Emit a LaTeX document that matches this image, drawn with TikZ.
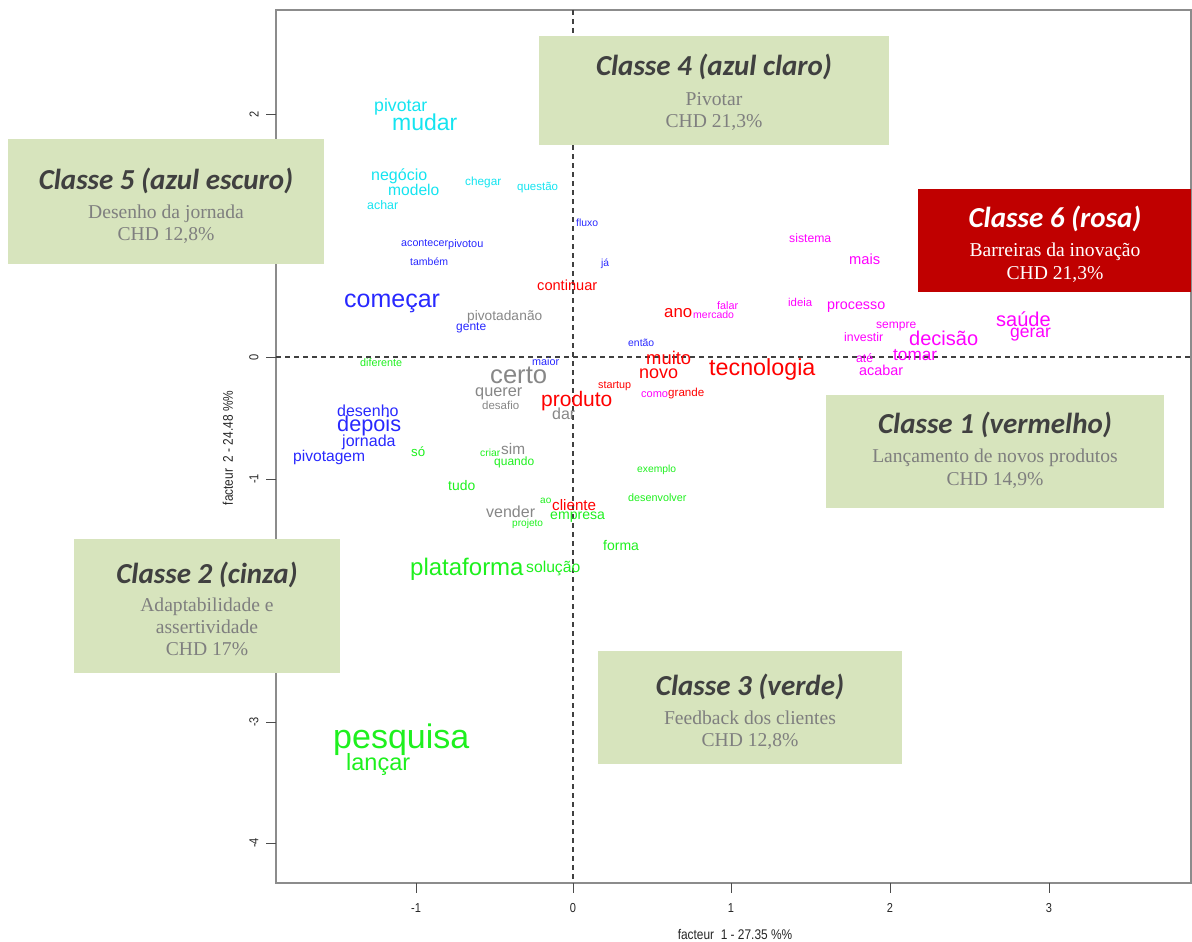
\documentclass[tikz,border=0pt]{standalone}
\usepackage{fontspec}
\setmainfont{Liberation Sans}
\newfontfamily\titlefont{Carlito}
\newfontfamily\subfont{Liberation Serif}
\newfontfamily\axisfont[FakeStretch=0.85]{Liberation Sans}

\definecolor{wcyan}{RGB}{20,228,240}
\definecolor{wblue}{RGB}{40,40,255}
\definecolor{wgrey}{RGB}{135,135,135}
\definecolor{wred}{RGB}{255,0,0}
\definecolor{wmag}{RGB}{255,0,255}
\definecolor{wgreen}{RGB}{30,240,30}
\definecolor{boxfill}{RGB}{215,228,189}
\definecolor{boxred}{RGB}{192,0,0}
\definecolor{titlegrey}{RGB}{64,64,64}
\definecolor{subgrey}{RGB}{127,127,127}

\tikzset{
  wd/.style 2 args={anchor=base west, inner sep=0pt, text=#1, font=\fontsize{#2}{#2}\selectfont},
  frameline/.style={draw=black!45, line width=2pt},
  tickline/.style={draw=black!70, line width=1pt},
  zeroline/.style={draw=black!75, line width=1.3pt, dash pattern=on 5pt off 4pt},
  ticklab/.style={inner sep=0pt, text=black!85, font=\axisfont\fontsize{13}{13}\selectfont},
  axtitle/.style={inner sep=0pt, text=black!85, font=\axisfont\fontsize{14}{14}\selectfont},
  classbox/.style={fill=boxfill, draw=none},
  classbox6/.style={fill=boxred, draw=none},
  ctitle/.style={anchor=base, inner sep=0pt, text=titlegrey, font=\titlefont\bfseries\itshape\fontsize{29}{29}\selectfont},
  csub/.style={anchor=base, inner sep=0pt, text=subgrey, font=\subfont\fontsize{19.6}{19.6}\selectfont},
}

\begin{document}
\begin{tikzpicture}[x=1pt, y=-1pt]
\useasboundingbox (0,0) rectangle (1192,942);

% plot frame and axes
\draw[frameline] (276,10) rectangle (1191,883);
\draw[zeroline] (573,10) -- (573,883);
\draw[zeroline] (276,357) -- (1191,357);

\foreach \xp/\lab in {416/-1, 573/0, 731/1, 890/2, 1049/3}{
  \draw[tickline] (\xp,883) -- (\xp,893);
  \node[ticklab] at (\xp,908) {\lab};
}
\foreach \yp/\lab in {114/2, 357/0, 479/-1, 722/-3, 843/-4}{
  \draw[tickline] (266,\yp) -- (276,\yp);
  \node[ticklab, rotate=90] at (254,\yp) {\lab};
}
\node[axtitle] (xtitle) at (735,934) {facteur\ \ 1 - 27.35 \%\%};
\node[axtitle, rotate=90] (ytitle) at (228,448) {facteur\ \ 2 - 24.48 \%\%};

% cyan class
\node[wd={wcyan}{17.7}] (pivotar) at (374,111.7) {pivotar};
\node[wd={wcyan}{23}] (mudar) at (392,130) {mudar};
\node[wd={wcyan}{16}] (negocio) at (371,180) {negócio};
\node[wd={wcyan}{15.6}] (modelo) at (388,195.7) {modelo};
\node[wd={wcyan}{12.4}] (achar) at (367,209) {achar};
\node[wd={wcyan}{11.8}] (chegar) at (465,185) {chegar};
\node[wd={wcyan}{11.5}] (questao) at (517,190) {questão};

% blue class
\node[wd={wblue}{10.4}] (fluxo) at (576,226.5) {fluxo};
\node[wd={wblue}{10.7}] (acontecer) at (401,246.7) {acontecer};
\node[wd={wblue}{10.9}] (pivotou) at (448,247) {pivotou};
\node[wd={wblue}{10.5}] (tambem) at (410,265.3) {também};
\node[wd={wblue}{10.3}] (ja) at (601,266) {já};
\node[wd={wblue}{25}] (comecar) at (344,307.3) {começar};
\node[wd={wblue}{12}] (gente) at (456,330.7) {gente};
\node[wd={wblue}{10.4}] (entao) at (628,346.7) {então};
\node[wd={wblue}{10.8}] (maior) at (532,365.3) {maior};
\node[wd={wblue}{16}] (desenho) at (337,416.7) {desenho};
\node[wd={wblue}{21.7}] (depois) at (337,431.7) {depois};
\node[wd={wblue}{16}] (jornada) at (342,446) {jornada};
\node[wd={wblue}{15.6}] (pivotagem) at (293,461) {pivotagem};

% grey class
\node[wd={wgrey}{13.7}] (pivotada) at (467,320) {pivotada};
\node[wd={wgrey}{13.7}] (nao) at (pivotada.base east) {não};
\node[wd={wgrey}{25.6}] (certo) at (490,383.3) {certo};
\node[wd={wgrey}{16.3}] (querer) at (475,396.7) {querer};
\node[wd={wgrey}{11.5}] (desafio) at (482,409.3) {desafio};
\node[wd={wgrey}{16}] (dar) at (552,419.3) {dar};
\node[wd={wgrey}{15.4}] (sim) at (501,454) {sim};
\node[wd={wgrey}{16}] (vender) at (486,517.3) {vender};

% red class
\node[wd={wred}{14.6}] (continuar) at (537,290) {continuar};
\node[wd={wred}{16.8}] (ano) at (664,317.3) {ano};
\node[wd={wred}{18.4}] (muito) at (646,364) {muito};
\node[wd={wred}{18}] (novo) at (639,378.3) {novo};
\node[wd={wred}{23.3}] (tecnologia) at (709,375) {tecnologia};
\node[wd={wred}{21}] (produto) at (541,406) {produto};
\node[wd={wred}{10.8}] (startup) at (598,388.7) {startup};
\node[wd={wred}{11.6}] (grande) at (668,396.7) {grande};
\node[wd={wred}{15.2}] (cliente) at (552,510.7) {cliente};

% magenta class
\node[wd={wmag}{12.2}] (sistema) at (789,242.7) {sistema};
\node[wd={wmag}{14.7}] (mais) at (849,264.3) {mais};
\node[wd={wmag}{10.8}] (falar) at (717,309) {falar};
\node[wd={wmag}{10.5}] (mercado) at (693,318.3) {mercado};
\node[wd={wmag}{11.4}] (ideia) at (788,306.7) {ideia};
\node[wd={wmag}{14.3}] (processo) at (827,309.3) {processo};
\node[wd={wmag}{12}] (sempre) at (876,328.7) {sempre};
\node[wd={wmag}{12.3}] (investir) at (844,341.7) {investir};
\node[wd={wmag}{20}] (decisao) at (909,345.7) {decisão};
\node[wd={wmag}{20}] (saude) at (996,326) {saúde};
\node[wd={wmag}{17.5}] (gerar) at (1010,337.3) {gerar};
\node[wd={wmag}{17.2}] (tomar) at (893,360) {tomar};
\node[wd={wmag}{12.2}] (ate) at (856,362.3) {até};
\node[wd={wmag}{14.4}] (acabar) at (859,375.7) {acabar};
\node[wd={wmag}{11}] (como) at (641,397.3) {como};

% green class
\node[wd={wgreen}{10.8}] (diferente) at (360,366) {diferente};
\node[wd={wgreen}{13.3}] (so) at (411,456) {só};
\node[wd={wgreen}{10.3}] (criar) at (480,456) {criar};
\node[wd={wgreen}{12}] (quando) at (494,465) {quando};
\node[wd={wgreen}{13.9}] (tudo) at (448,490) {tudo};
\node[wd={wgreen}{10.3}] (exemplo) at (637,472.7) {exemplo};
\node[wd={wgreen}{10}] (ao) at (540,503.3) {ao};
\node[wd={wgreen}{10.8}] (desenvolver) at (628,501.7) {desenvolver};
\node[wd={wgreen}{14.1}] (empresa) at (550,519.3) {empresa};
\node[wd={wgreen}{10.1}] (projeto) at (512,526.7) {projeto};
\node[wd={wgreen}{14}] (forma) at (603,550.7) {forma};
\node[wd={wgreen}{24}] (plataforma) at (410,575) {plataforma};
\node[wd={wgreen}{15.7}] (solucao) at (526,572.7) {solução};
\node[wd={wgreen}{34}] (pesquisa) at (333,748) {pesquisa};
\node[wd={wgreen}{23.5}] (lancar) at (346,770) {lançar};

% class boxes
\fill[classbox] (539,36) rectangle (889,145);
\node[ctitle] (c4t) at (714,75.7) {Classe 4 (azul claro)};
\node[csub] (c4a) at (714,106) {Pivotar};
\node[csub] (c4b) at (714,127) {CHD 21,3\%};

\fill[classbox] (8,139) rectangle (324,264);
\node[ctitle] (c5t) at (166,189) {Classe 5 (azul escuro)};
\node[csub] (c5a) at (166,218) {Desenho da jornada};
\node[csub] (c5b) at (166,240) {CHD 12,8\%};

\fill[classbox6] (918,189) rectangle (1191,292);
\node[ctitle, text=white] (c6t) at (1055,227) {Classe 6 (rosa)};
\node[csub, text=white] (c6a) at (1055,256) {Barreiras da inovação};
\node[csub, text=white] (c6b) at (1055,279) {CHD 21,3\%};

\fill[classbox] (826,395) rectangle (1164,508);
\node[ctitle] (c1t) at (995,433) {Classe 1 (vermelho)};
\node[csub] (c1a) at (995,462) {Lançamento de novos produtos};
\node[csub] (c1b) at (995,485) {CHD 14,9\%};

\fill[classbox] (74,539) rectangle (340,673);
\node[ctitle] (c2t) at (207,583) {Classe 2 (cinza)};
\node[csub] (c2a) at (207,611) {Adaptabilidade e};
\node[csub] (c2b) at (207,633) {assertividade};
\node[csub] (c2c) at (207,655) {CHD 17\%};

\fill[classbox] (598,651) rectangle (902,764);
\node[ctitle] (c3t) at (750,695) {Classe 3 (verde)};
\node[csub] (c3a) at (750,724) {Feedback dos clientes};
\node[csub] (c3b) at (750,746) {CHD 12,8\%};
\end{tikzpicture}
\end{document}
